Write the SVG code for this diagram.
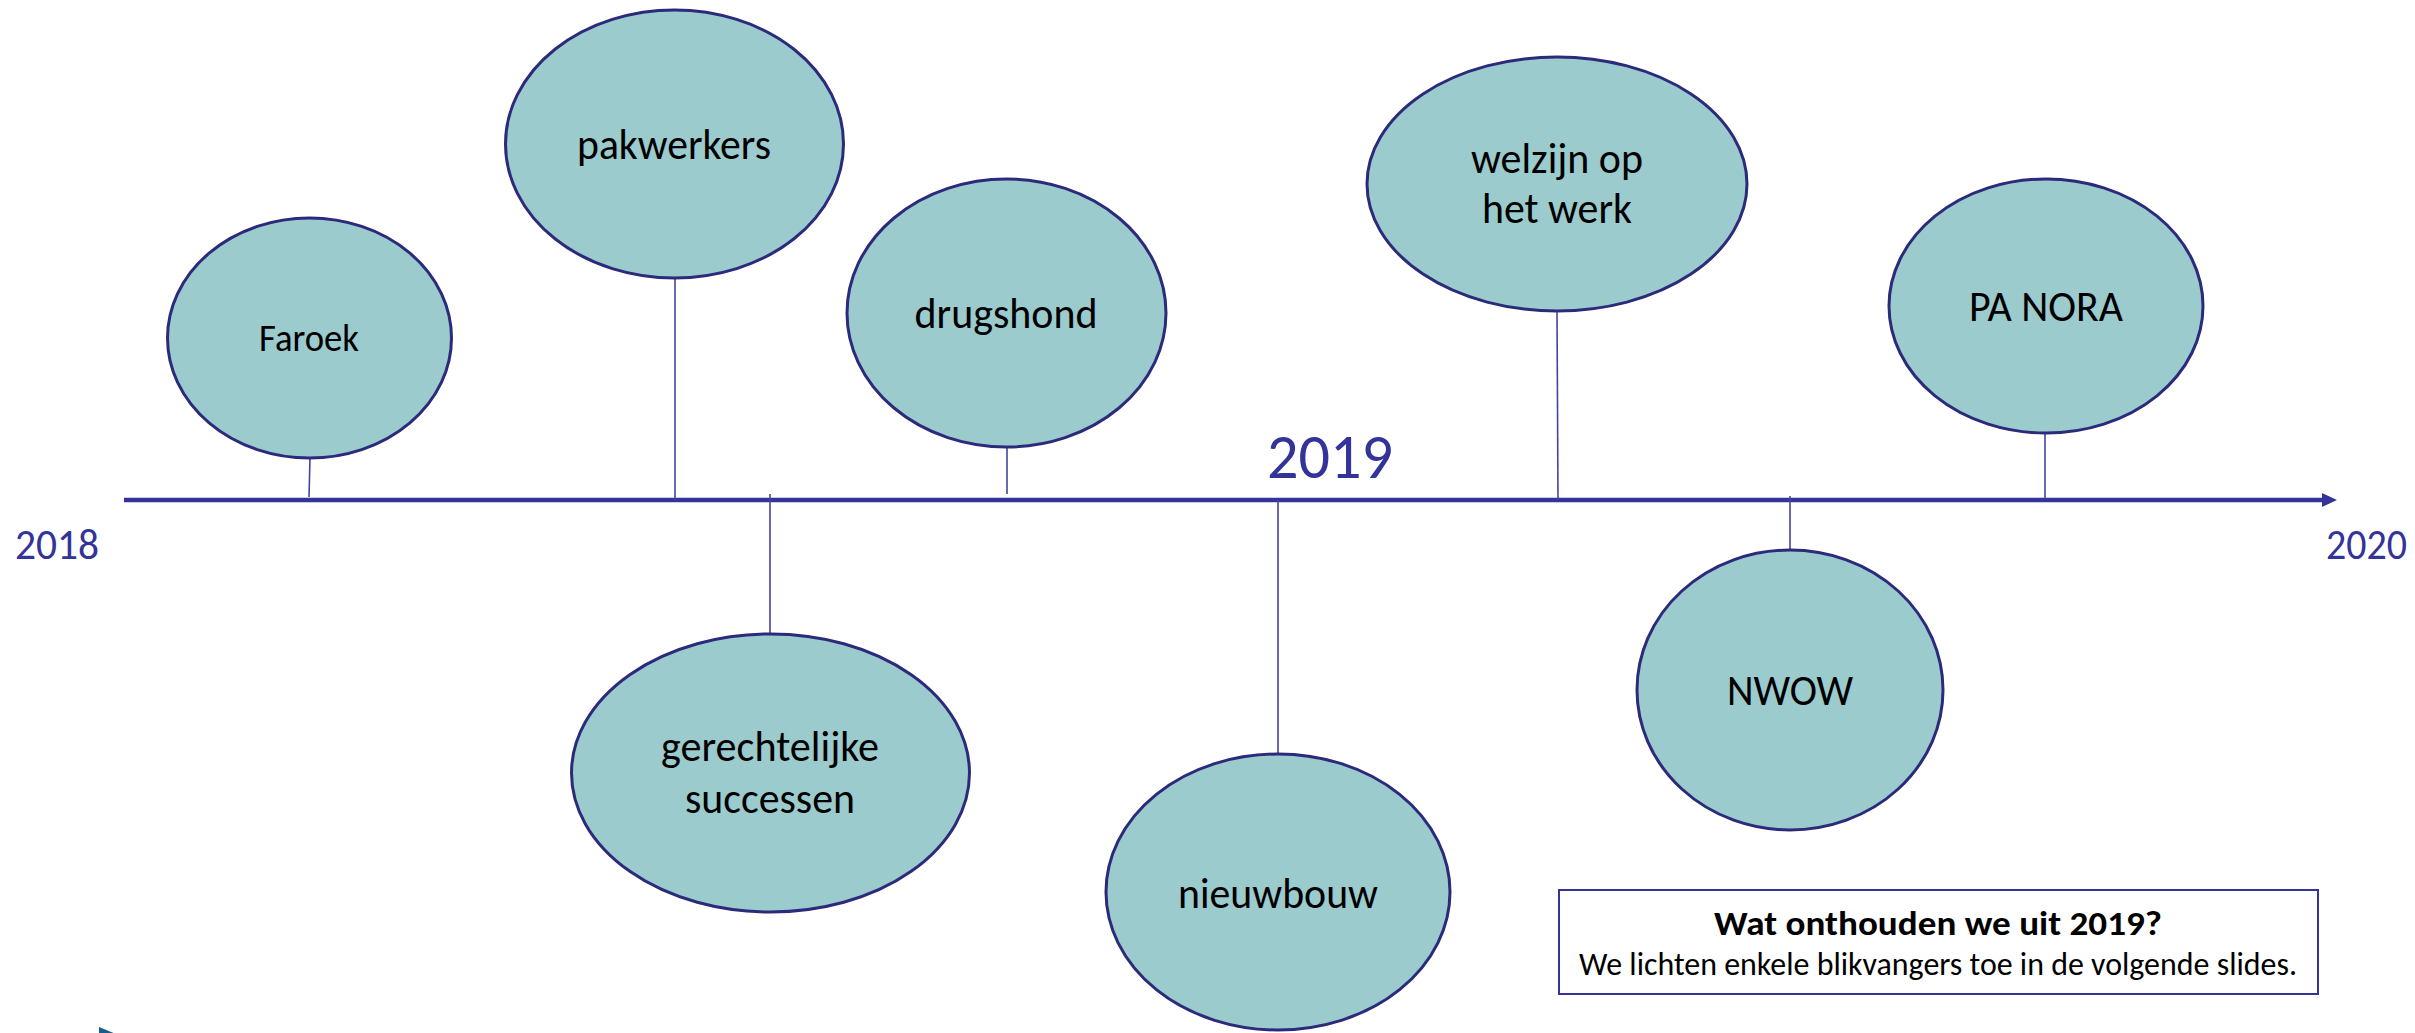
<svg xmlns="http://www.w3.org/2000/svg" width="2415" height="1033" viewBox="0 0 2415 1033">
<style>
.node ellipse{fill:#9BCBCD;stroke:#2B2A7B;stroke-width:3}
.lbl{font-family:Carlito,Calibri,Lato,"Liberation Sans",sans-serif;fill:#000;text-anchor:middle}
.year{font-family:Carlito,Calibri,Lato,"Liberation Sans",sans-serif;fill:#333399}
.conn line{stroke:#4444A0;stroke-width:1.6}
</style>
<rect width="2415" height="1033" fill="#fff"/>
<g id="timeline">
<line x1="124" y1="500" x2="2324" y2="500" stroke="#333399" stroke-width="4.5"/>
<polygon points="2322,493 2337,500 2322,507" fill="#333399"/>
</g>
<g class="conn" id="connectors">
<line x1="310" y1="458" x2="309" y2="497"/>
<line x1="675" y1="278" x2="675" y2="500"/>
<line x1="770" y1="494" x2="770" y2="635"/>
<line x1="1007" y1="447" x2="1007" y2="494"/>
<line x1="1278" y1="500" x2="1278" y2="754"/>
<line x1="1557" y1="311" x2="1558" y2="499"/>
<line x1="1790" y1="496" x2="1790" y2="550"/>
<line x1="2045" y1="433" x2="2045" y2="499"/>
</g>
<g class="node" id="faroek"><ellipse cx="309.5" cy="338" rx="142" ry="120"/><text class="lbl" x="309" y="351" font-size="39" textLength="100" lengthAdjust="spacingAndGlyphs">Faroek</text></g>
<g class="node" id="pakwerkers"><ellipse cx="674.5" cy="144" rx="169" ry="134"/><text class="lbl" x="674" y="159" font-size="44" textLength="194" lengthAdjust="spacingAndGlyphs">pakwerkers</text></g>
<g class="node" id="drugshond"><ellipse cx="1006.5" cy="313" rx="159.5" ry="134"/><text class="lbl" x="1006" y="328" font-size="44" textLength="183" lengthAdjust="spacingAndGlyphs">drugshond</text></g>
<g class="node" id="gerechtelijke"><ellipse cx="770.5" cy="773" rx="199" ry="139"/><text class="lbl" x="770" y="761" font-size="44" textLength="218" lengthAdjust="spacingAndGlyphs">gerechtelijke</text><text class="lbl" x="770" y="813" font-size="44" textLength="170" lengthAdjust="spacingAndGlyphs">successen</text></g>
<g class="node" id="nieuwbouw"><ellipse cx="1278" cy="892" rx="172" ry="138"/><text class="lbl" x="1278" y="908" font-size="44" textLength="200" lengthAdjust="spacingAndGlyphs">nieuwbouw</text></g>
<g class="node" id="welzijn"><ellipse cx="1557" cy="184" rx="190" ry="127"/><text class="lbl" x="1557" y="173" font-size="44" textLength="172" lengthAdjust="spacingAndGlyphs">welzijn op</text><text class="lbl" x="1557" y="223" font-size="44" textLength="150" lengthAdjust="spacingAndGlyphs">het werk</text></g>
<g class="node" id="nwow"><ellipse cx="1790" cy="690" rx="153" ry="140"/><text class="lbl" x="1790" y="705" font-size="44" textLength="126" lengthAdjust="spacingAndGlyphs">NWOW</text></g>
<g class="node" id="panora"><ellipse cx="2046" cy="306" rx="157" ry="127"/><text class="lbl" x="2046" y="321" font-size="44" textLength="154" lengthAdjust="spacingAndGlyphs">PA NORA</text></g>
<g id="years">
<text class="year" x="15" y="559" font-size="43" textLength="84" lengthAdjust="spacingAndGlyphs">2018</text>
<text class="year" x="1267" y="478" font-size="64" textLength="126" lengthAdjust="spacingAndGlyphs">2019</text>
<text class="year" x="2326" y="559" font-size="43" textLength="81" lengthAdjust="spacingAndGlyphs">2020</text>
</g>
<g id="note">
<rect x="1559" y="890" width="759" height="104" fill="#fff" stroke="#333399" stroke-width="2"/>
<text class="lbl" x="1938" y="935" font-size="35" font-weight="bold" textLength="448" lengthAdjust="spacingAndGlyphs">Wat onthouden we uit 2019?</text>
<text class="lbl" x="1938" y="975" font-size="32" textLength="718" lengthAdjust="spacingAndGlyphs">We lichten enkele blikvangers toe in de volgende slides.</text>
</g>
<polygon id="corner-mark" points="99,1027 116,1034 99,1034" fill="#1A5C8A"/>
</svg>
